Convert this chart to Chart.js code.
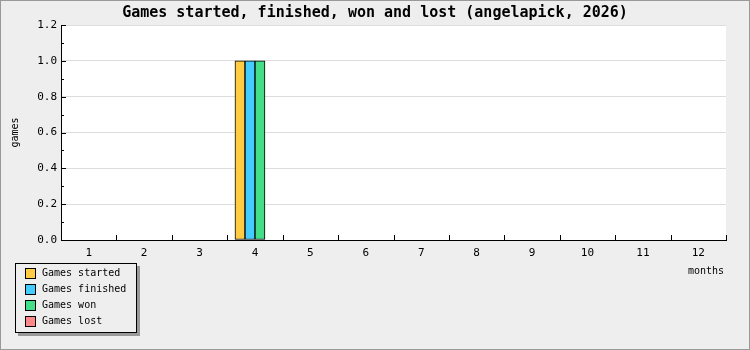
<!DOCTYPE html>
<html lang="en">
<head>
  <meta charset="UTF-8">
  <title>Games started, finished, won and lost</title>
  <script src="https://cdn.jsdelivr.net/npm/chart.js"></script>
  <style>
    body {
      margin: 0;
      background: #eeeeee;
    }
    #gamesChart {
      display: block;
    }
  </style>
</head>
<body>
  <canvas id="gamesChart" width="750" height="350"></canvas>
  <script>
    // chart data
    const months = ['1', '2', '3', '4', '5', '6', '7', '8', '9', '10', '11', '12'];
    const gamesStarted  = [0, 0, 0, 1, 0, 0, 0, 0, 0, 0, 0, 0];
    const gamesFinished = [0, 0, 0, 1, 0, 0, 0, 0, 0, 0, 0, 0];
    const gamesWon      = [0, 0, 0, 1, 0, 0, 0, 0, 0, 0, 0, 0];
    const gamesLost     = [0, 0, 0, 0, 0, 0, 0, 0, 0, 0, 0, 0];
    const seriesLabels = ['Games started', 'Games finished', 'Games won', 'Games lost'];
    const seriesColors = ['#ffcc44', '#44ccff', '#44dd88', '#ff8888'];
    const chartTitle = 'Games started, finished, won and lost (angelapick, 2026)';

    const FONT = "'DejaVu Sans Mono', monospace";

    // background, frame, title, inward ticks and the boxed legend
    const decorations = {
      id: 'decorations',
      beforeDraw(chart) {
        const ctx = chart.ctx;
        const a = chart.chartArea;
        ctx.save();
        ctx.fillStyle = '#eeeeee';
        ctx.fillRect(0, 0, chart.width, chart.height);
        ctx.strokeStyle = '#999999';
        ctx.lineWidth = 1;
        ctx.strokeRect(0.5, 0.5, chart.width - 1, chart.height - 1);
        ctx.fillStyle = '#ffffff';
        ctx.fillRect(a.left, a.top, a.right - a.left, a.bottom - a.top);
        // title centred on the whole image
        ctx.fillStyle = '#000000';
        ctx.font = 'bold 15px ' + FONT;
        ctx.textAlign = 'center';
        ctx.textBaseline = 'middle';
        ctx.fillText(chartTitle, chart.width / 2, 13);
        ctx.restore();
      },
      afterDraw(chart) {
        const ctx = chart.ctx;
        const x = chart.scales.x;
        const y = chart.scales.y;
        ctx.save();
        ctx.strokeStyle = '#000000';
        ctx.lineWidth = 1;
        ctx.beginPath();
        // x ticks on category boundaries, pointing up
        for (let i = 0; i <= months.length; i++) {
          const px = Math.round(x.getPixelForValue(i - 0.5)) + 0.5;
          ctx.moveTo(px, y.bottom);
          ctx.lineTo(px, y.bottom - 5);
        }
        // y major and minor ticks, pointing right
        const ticks = y.ticks;
        ticks.forEach((t, i) => {
          const py = Math.round(y.getPixelForValue(t.value)) + 0.5;
          ctx.moveTo(x.left, py);
          ctx.lineTo(x.left + 5, py);
          if (i < ticks.length - 1) {
            const mid = (t.value + ticks[i + 1].value) / 2;
            const pm = Math.round(y.getPixelForValue(mid)) + 0.5;
            ctx.moveTo(x.left, pm);
            ctx.lineTo(x.left + 3, pm);
          }
        });
        ctx.stroke();

        // legend box with shadow
        const lx = 15, ly = 263, lw = 121, lh = 69;
        ctx.fillStyle = '#999999';
        ctx.fillRect(lx + 3, ly + 3, lw + 1, lh + 1);
        ctx.fillStyle = '#eeeeee';
        ctx.fillRect(lx, ly, lw, lh);
        ctx.strokeRect(lx + 0.5, ly + 0.5, lw, lh);
        ctx.font = '10px ' + FONT;
        ctx.textBaseline = 'middle';
        ctx.textAlign = 'left';
        chart.data.datasets.forEach((ds, i) => {
          const rowY = ly + 5 + i * 16;
          ctx.fillStyle = ds.backgroundColor;
          ctx.fillRect(25, rowY, 10, 10);
          ctx.strokeRect(25.5, rowY + 0.5, 10, 10);
          ctx.fillStyle = '#000000';
          ctx.fillText(ds.label, 42, rowY + 5.5);
        });

        // x axis title at the right end
        ctx.textAlign = 'right';
        ctx.fillText('months', 724, 271);
        ctx.restore();
      }
    };

    const seriesData = [gamesStarted, gamesFinished, gamesWon, gamesLost];

    new Chart(document.getElementById('gamesChart').getContext('2d'), {
      type: 'bar',
      data: {
        labels: months,
        datasets: seriesData.map((values, i) => ({
          label: seriesLabels[i],
          data: values,
          backgroundColor: seriesColors[i],
          borderColor: '#000000',
          borderWidth: 1,
          borderSkipped: false,
          barThickness: 10
        }))
      },
      options: {
        responsive: false,
        animation: false,
        layout: { padding: { left: 0, right: 24, top: 25, bottom: 0 } },
        plugins: {
          legend: { display: false },
          tooltip: { enabled: false },
          title: { display: false }
        },
        scales: {
          x: {
            grid: { display: false, drawTicks: false },
            border: { color: '#000000', width: 1 },
            ticks: { color: '#000000', font: { family: FONT, size: 11 }, padding: 7, maxRotation: 0 },
            afterFit(scale) { scale.height = 110; }
          },
          y: {
            min: 0,
            max: 1.2,
            ticks: {
              stepSize: 0.2,
              color: '#000000',
              font: { family: FONT, size: 11 },
              padding: 4,
              callback: v => v.toFixed(1)
            },
            grid: { color: '#dddddd', drawTicks: false },
            border: { color: '#000000', width: 1 },
            title: {
              display: true,
              text: 'games',
              color: '#000000',
              font: { family: FONT, size: 10 },
              padding: { top: 9, bottom: 0 }
            },
            afterFit(scale) { scale.width = 61; }
          }
        }
      },
      plugins: [decorations]
    });
  </script>
</body>
</html>
